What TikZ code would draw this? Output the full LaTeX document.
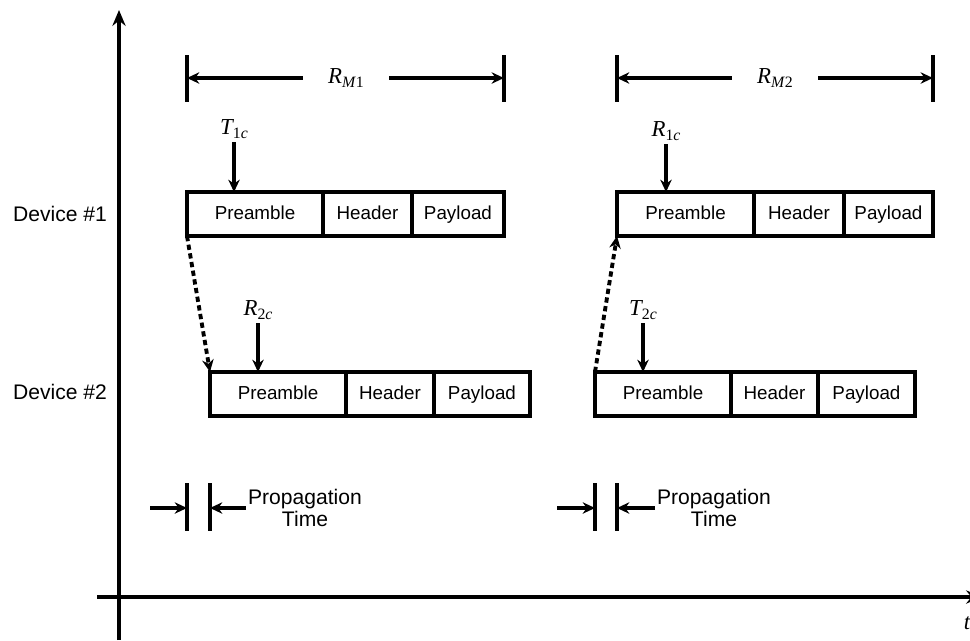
\documentclass[tikz,border=0pt]{standalone}
\usepackage{xcolor}
\usepackage{fontspec}
\setmainfont{Liberation Sans}
\newfontfamily\tms{Liberation Serif}
\usetikzlibrary{positioning,arrows.meta}

% italic symbol with a small subscript
\newcommand{\symb}[2]{{\tms\fontsize{13}{14}\selectfont\itshape #1}{\tms\fontsize{9}{9}\selectfont\raisebox{-0.45ex}{#2}}}

\tikzset{
  field/.style={rectangle, draw, line width=2pt, outer sep=0pt, inner sep=0pt,
    minimum height=0.88cm, text height=1.6ex, text depth=0.4ex,
    font=\fontsize{10.7}{12}\selectfont},
  devlabel/.style={font=\fontsize{12}{13}\selectfont},
  arr/.style={line width=1.8pt, -{Stealth[length=7pt,width=6.5pt]}},
  bar/.style={line width=2pt},
  prop/.style={dash pattern=on 3pt off 2pt, line width=2.2pt, -{Stealth[length=7pt,width=6.5pt]}}
}

\begin{document}
\begin{tikzpicture}[x=0.02cm, y=-0.02cm]
\useasboundingbox (0,0) rectangle (970,640);

% axes
\coordinate (ybot) at (119,640);
\coordinate (ytop) at (119,10);
\coordinate (xleft) at (97,597);
\coordinate (xright) at (982,597);
\draw [line width=2pt, -{Stealth[length=9pt,width=7.5pt]}] (ybot) -- (ytop);
\draw [line width=2pt, -{Stealth[length=9pt,width=7.5pt]}] (xleft) -- (xright);
\node [font=\tms\itshape\fontsize{13}{13}\selectfont] (t) at (967,623) {t};

\node [devlabel] (dev1) at (60,214) {Device \#1};
\node [devlabel] (dev2) at (60,392) {Device \#2};

% first exchange
\node [field, minimum width=2.72cm, anchor=north west] (pre1) at (187,192) {Preamble};
\node [field, minimum width=1.78cm, right=0pt of pre1] (hdr1) {Header};
\node [field, minimum width=1.84cm, right=0pt of hdr1] (pay1) {Payload};
\node [field, minimum width=2.72cm, anchor=north west] (pre2) at (210,372) {Preamble};
\node [field, minimum width=1.76cm, right=0pt of pre2] (hdr2) {Header};
\node [field, minimum width=1.92cm, right=0pt of hdr2] (pay2) {Payload};

% second exchange
\node [field, minimum width=2.74cm, anchor=north west] (pre3) at (617,192) {Preamble};
\node [field, minimum width=1.80cm, right=0pt of pre3] (hdr3) {Header};
\node [field, minimum width=1.78cm, right=0pt of hdr3] (pay3) {Payload};
\node [field, minimum width=2.72cm, anchor=north west] (pre4) at (595,372) {Preamble};
\node [field, minimum width=1.74cm, right=0pt of pre4] (hdr4) {Header};
\node [field, minimum width=1.94cm, right=0pt of hdr4] (pay4) {Payload};

% R_M spans
\node [inner xsep=0.5cm] (rm1) at (346,78) {\symb{R}{\textit{M}1}};
\node [inner xsep=0.5cm] (rm2) at (775,78) {\symb{R}{\textit{M}2}};
\draw [bar] (pre1.west |- 0,55) -- (pre1.west |- 0,102);
\draw [bar] (pay1.east |- 0,55) -- (pay1.east |- 0,102);
\draw [bar] (pre3.west |- 0,55) -- (pre3.west |- 0,102);
\draw [bar] (pay3.east |- 0,55) -- (pay3.east |- 0,102);
\draw [arr] (rm1) -- (rm1 -| pre1.west);
\draw [arr] (rm1) -- (rm1 -| pay1.east);
\draw [arr] (rm2) -- (rm2 -| pre3.west);
\draw [arr] (rm2) -- (rm2 -| pay3.east);

% timestamps
\node [inner ysep=2pt] (t1c) at (234,129) {\symb{T}{1\textit{c}}};
\node [inner ysep=2pt] (r2c) at (258,310) {\symb{R}{2\textit{c}}};
\node [inner ysep=2pt] (r1c) at (666,131) {\symb{R}{1\textit{c}}};
\node [inner ysep=2pt] (t2c) at (643,310) {\symb{T}{2\textit{c}}};
\draw [arr] (t1c) -- (t1c |- pre1.north);
\draw [arr] (r2c) -- (r2c |- pre2.north);
\draw [arr] (r1c) -- (r1c |- pre3.north);
\draw [arr] (t2c) -- (t2c |- pre4.north);

% propagation
\draw [prop] (pre1.south west) -- (pre2.north west);
\draw [prop] (pre4.north west) -- (pre3.south west);

\node [devlabel, align=center, inner xsep=1pt] (prop1) at (305,508) {Propagation\\Time};
\node [devlabel, align=center, inner xsep=1pt] (prop2) at (714,508) {Propagation\\Time};
\coordinate (pl1) at (150,508);
\coordinate (pl2) at (557,508);
\draw [bar] (pre1.west |- 0,483) -- (pre1.west |- 0,531);
\draw [bar] (pre2.west |- 0,483) -- (pre2.west |- 0,531);
\draw [bar] (pre4.west |- 0,483) -- (pre4.west |- 0,531);
\draw [bar] (pre3.west |- 0,483) -- (pre3.west |- 0,531);
\draw [arr] (pl1) -- (pl1 -| pre1.west);
\draw [arr] (prop1.west) -- (prop1.west -| pre2.west);
\draw [arr] (pl2) -- (pl2 -| pre4.west);
\draw [arr] (prop2.west) -- (prop2.west -| pre3.west);
\end{tikzpicture}
\end{document}
